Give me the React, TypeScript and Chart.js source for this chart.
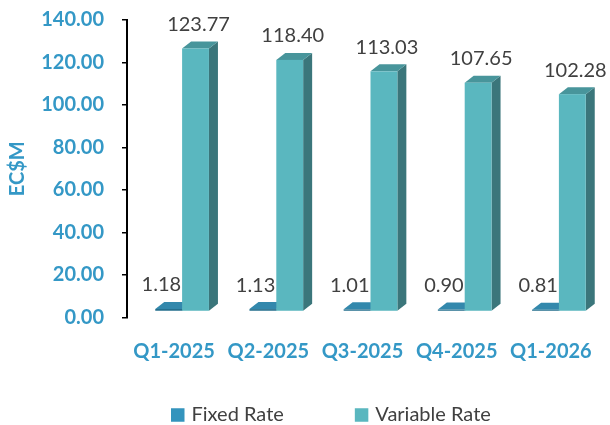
import React, { useEffect, useRef } from 'react';
import { Chart, registerables } from 'chart.js';

Chart.register(...registerables);

// ---- data ----
const categories = ['Q1-2025', 'Q2-2025', 'Q3-2025', 'Q4-2025', 'Q1-2026'];
const fixedRate = [1.18, 1.13, 1.01, 0.9, 0.81];
const variableRate = [123.77, 118.4, 113.03, 107.65, 102.28];
const seriesNames = ['Fixed Rate', 'Variable Rate'];
const yAxisTitle = 'EC$M';
const yMin = 0;
const yMax = 140;
const yStep = 20;

// ---- styles ----
const FONT = 'Lato';
const BLUE = '#3498C6';
const TEXT = '#404040';
const faces = [
  { front: '#256F8D', top: '#3388AC', side: '#1F5F78', legend: '#3494BD' },
  { front: '#5AB7BF', top: '#48959B', side: '#3B767B', legend: '#5AB7BF' },
];
const DEPTH = { dx: 9, dy: -7 };
const SHIFT = { x: 8, y: -6 };

function poly(ctx: CanvasRenderingContext2D, pts: number[][], color: string) {
  ctx.beginPath();
  ctx.moveTo(pts[0][0], pts[0][1]);
  for (let i = 1; i < pts.length; i++) ctx.lineTo(pts[i][0], pts[i][1]);
  ctx.closePath();
  ctx.fillStyle = color;
  ctx.fill();
}

const bars3d = {
  id: 'bars3d',
  beforeDatasetDraw() {
    return false;
  },
  afterDatasetsDraw(chart: any) {
    const ctx: CanvasRenderingContext2D = chart.ctx;
    const n = chart.data.labels.length;
    const { dx, dy } = DEPTH;
    ctx.save();
    for (let j = 0; j < n; j++) {
      chart.data.datasets.forEach((ds: any, i: number) => {
        const el = chart.getDatasetMeta(i).data[j];
        const L = el.x - el.width / 2 + SHIFT.x;
        const R = el.x + el.width / 2 + SHIFT.x;
        const T = el.y + SHIFT.y;
        const B = el.base + SHIFT.y;
        const f = faces[i];
        poly(ctx, [[R, T], [R + dx, T + dy], [R + dx, B + dy], [R, B]], f.side);
        poly(ctx, [[L, T], [R, T], [R + dx, T + dy], [L + dx, T + dy]], f.top);
        ctx.fillStyle = f.front;
        ctx.fillRect(L, T, R - L, B - T);
      });
    }
    // data labels
    ctx.font = `20px ${FONT}`;
    ctx.fillStyle = TEXT;
    ctx.textBaseline = 'middle';
    chart.data.datasets.forEach((ds: any, i: number) => {
      chart.getDatasetMeta(i).data.forEach((el: any, j: number) => {
        const L = el.x - el.width / 2 + SHIFT.x;
        const R = el.x + el.width / 2 + SHIFT.x;
        const T = el.y + SHIFT.y;
        const txt = Number(ds.data[j]).toFixed(2);
        if (i === 0) {
          ctx.textAlign = 'right';
          ctx.fillText(txt, R - 1, T - 24);
        } else {
          ctx.textAlign = 'center';
          ctx.fillText(txt, (L + R) / 2 + 3, T - 24);
        }
      });
    });
    ctx.restore();
  },
  afterDraw(chart: any) {
    // legend
    const ctx: CanvasRenderingContext2D = chart.ctx;
    ctx.save();
    ctx.font = `20px ${FONT}`;
    ctx.textBaseline = 'middle';
    ctx.textAlign = 'left';
    const box = 13.5;
    const cy = 415;
    let x = 171;
    chart.data.datasets.forEach((ds: any, i: number) => {
      ctx.fillStyle = faces[i].legend;
      ctx.fillRect(x, cy - box / 2, box, box);
      ctx.fillStyle = TEXT;
      ctx.fillText(ds.label, x + box + 7, cy);
      x += box + 7 + ctx.measureText(ds.label).width + 71;
    });
    ctx.restore();
  },
};

export default function App() {
  const ref = useRef<HTMLCanvasElement | null>(null);
  useEffect(() => {
    if (!ref.current) return;
    const chart = new Chart(ref.current, {
      type: 'bar',
      data: {
        labels: categories,
        datasets: [
          { label: seriesNames[0], data: fixedRate, backgroundColor: faces[0].legend },
          { label: seriesNames[1], data: variableRate, backgroundColor: faces[1].legend },
        ],
      },
      options: {
        responsive: false,
        animation: false,
        devicePixelRatio: 1,
        layout: { padding: { left: 0, top: 20, right: 12, bottom: 62.5 } },
        datasets: { bar: { categoryPercentage: 0.57, barPercentage: 1 } },
        plugins: { legend: { display: false }, tooltip: { enabled: false } },
        scales: {
          x: {
            grid: { display: false },
            border: { display: false },
            ticks: {
              padding: 14,
              color: BLUE,
              font: { family: FONT, size: 20, weight: 'bold' },
              maxRotation: 0,
            },
            afterFit: (s: any) => {
              s.height = 45;
              s.paddingLeft = 0;
              s.paddingRight = 0;
            },
          },
          y: {
            min: yMin,
            max: yMax,
            grid: { drawOnChartArea: false, color: '#000', lineWidth: 1.5, tickLength: 5 },
            border: { display: true, color: '#000', width: 2 },
            ticks: {
              stepSize: yStep,
              padding: 18,
              color: BLUE,
              font: { family: FONT, size: 20, weight: 'bold' },
              callback: (v: any) => Number(v).toFixed(2),
            },
            title: {
              display: true,
              text: yAxisTitle,
              color: BLUE,
              font: { family: FONT, size: 20, weight: 'bold' },
              padding: { top: 6, bottom: 0 },
            },
            afterFit: (s: any) => {
              s.width = 127;
              s.paddingTop = 0;
              s.paddingBottom = 0;
            },
          },
        },
      },
      plugins: [bars3d],
    });
    return () => chart.destroy();
  }, []);
  return (
    <div style={{ position: 'absolute', left: 0, top: 0, width: 610, height: 425, background: '#fff' }}>
      <canvas ref={ref} width={610} height={425} />
    </div>
  );
}
